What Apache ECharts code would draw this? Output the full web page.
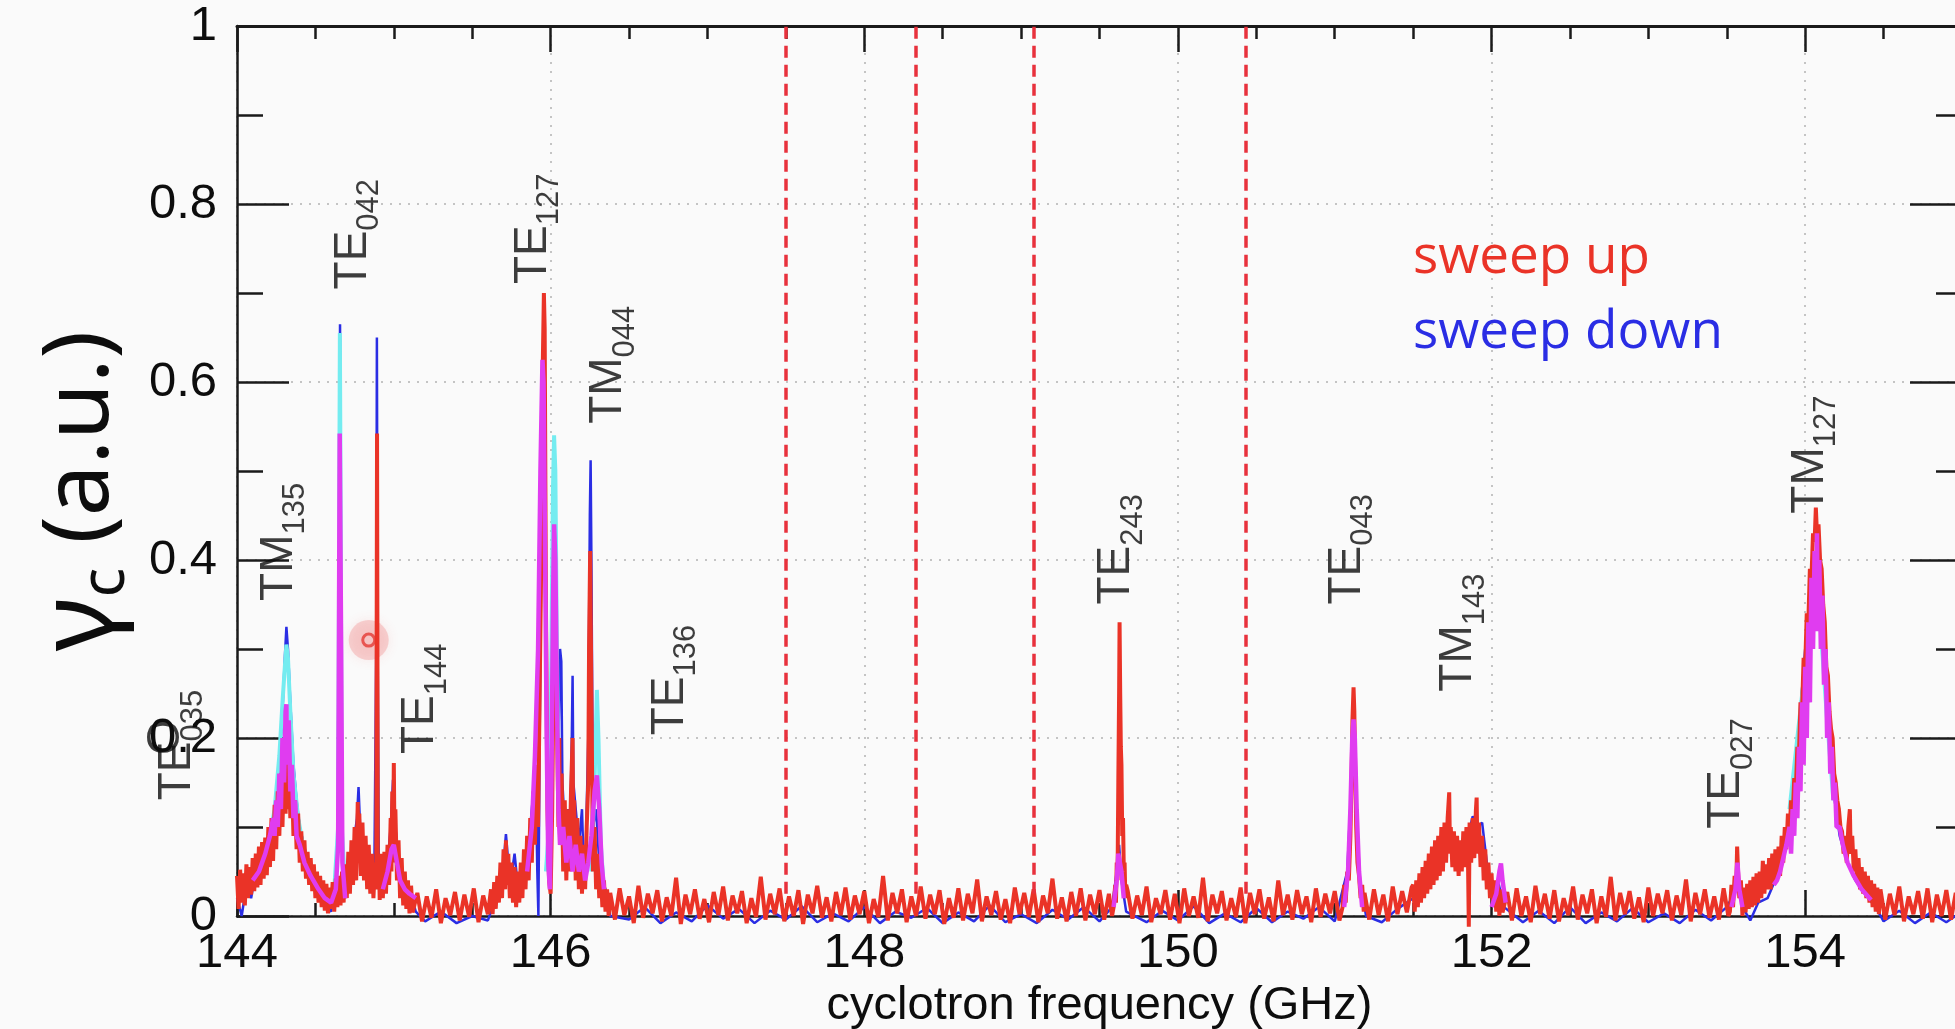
<!DOCTYPE html>
<html lang="en">
<head>
<meta charset="UTF-8">
<title>cyclotron frequency scan</title>
<script src="https://cdn.jsdelivr.net/npm/echarts@6/dist/echarts.min.js"></script>
<style>
  html, body { margin: 0; padding: 0; background: #fafafa; }
  #chart { width: 1955px; height: 1029px; }
</style>
</head>
<body>
<div id="chart"></div>
<script>
// sweep up (red) as [GHz, value]
var sweepUp = [
  // TM135 / TE042 / TE144 group
  [144.00,0.045],[144.01,0.008],[144.02,0.052],[144.03,0.015],[144.04,0.048],[144.05,0.012],[144.06,0.058],[144.07,0.02],
  [144.08,0.055],[144.09,0.024],[144.10,0.065],[144.11,0.028],[144.12,0.07],[144.13,0.032],[144.14,0.078],[144.15,0.035],
  [144.16,0.083],[144.17,0.042],[144.18,0.088],[144.19,0.046],[144.20,0.1],[144.21,0.055],[144.22,0.11],[144.23,0.062],
  [144.24,0.125],[144.25,0.075],[144.26,0.14],[144.27,0.09],[144.28,0.16],[144.29,0.1],[144.30,0.175],[144.31,0.115],
  [144.315,0.2],[144.32,0.12],[144.33,0.185],[144.34,0.11],[144.35,0.16],[144.36,0.09],[144.37,0.13],[144.38,0.075],
  [144.39,0.115],[144.40,0.06],[144.41,0.095],[144.42,0.05],[144.43,0.085],[144.44,0.042],[144.45,0.072],[144.46,0.035],
  [144.47,0.065],[144.48,0.028],[144.49,0.058],[144.50,0.02],[144.51,0.05],[144.52,0.015],[144.53,0.045],[144.54,0.01],
  [144.55,0.04],[144.56,0.006],[144.57,0.036],[144.58,0.003],[144.59,0.032],[144.60,0.008],[144.61,0.038],[144.62,0.005],
  [144.63,0.042],[144.64,0.01],[144.65,0.045],[144.66,0.012],[144.67,0.05],[144.68,0.015],[144.69,0.058],[144.70,0.02],
  [144.71,0.072],[144.72,0.025],[144.73,0.085],[144.74,0.035],[144.75,0.1],[144.76,0.04],[144.77,0.128],[144.775,0.06],
  [144.78,0.115],[144.79,0.045],[144.80,0.105],[144.81,0.04],[144.82,0.09],[144.83,0.03],[144.84,0.08],[144.85,0.025],
  [144.86,0.07],[144.87,0.02],[144.88,0.06],[144.888,0.03],[144.891,0.35],[144.893,0.542],[144.895,0.35],[144.898,0.03],
  [144.905,0.065],[144.91,0.018],[144.92,0.07],[144.93,0.02],[144.94,0.072],[144.95,0.025],[144.96,0.08],[144.97,0.035],
  [144.98,0.11],[144.985,0.05],[144.99,0.14],[144.995,0.06],[145.0,0.172],[145.005,0.07],[145.01,0.12],[145.02,0.04],
  [145.03,0.085],[145.04,0.02],[145.05,0.065],[145.06,0.012],[145.07,0.05],[145.08,0.008],[145.09,0.04],[145.10,0.003],
  [145.11,0.034],
  [145.12,0.004],[145.15,0.026],[145.18,-0.006],[145.21,0.022],[145.24,-0.002],[145.27,0.03],[145.30,-0.008],[145.33,0.02],
  [145.36,0.001],[145.39,0.027],[145.42,-0.005],[145.45,0.024],[145.48,-0.001],[145.51,0.031],[145.54,-0.007],[145.57,0.023],
  [145.60,0.002],
  // TE127 / TM044 group
  [145.62,0.03],[145.63,0.002],[145.64,0.038],[145.65,0.008],[145.66,0.045],[145.67,0.015],[145.68,0.06],[145.69,0.02],
  [145.70,0.075],[145.71,0.03],[145.715,0.085],[145.72,0.035],[145.73,0.07],[145.74,0.02],[145.75,0.06],[145.76,0.015],
  [145.77,0.055],[145.78,0.01],[145.79,0.05],[145.80,0.015],[145.81,0.06],[145.82,0.02],[145.83,0.075],[145.84,0.03],
  [145.85,0.09],[145.86,0.04],[145.87,0.11],[145.88,0.06],[145.89,0.14],[145.90,0.08],[145.91,0.17],[145.92,0.1],
  [145.93,0.25],[145.94,0.4],[145.95,0.62],[145.957,0.70],[145.962,0.66],[145.97,0.35],[145.98,0.12],[145.99,0.04],
  [146.0,0.025],[146.01,0.12],[146.02,0.3],[146.03,0.36],[146.04,0.22],[146.05,0.1],[146.055,0.2],[146.06,0.08],
  [146.07,0.16],[146.08,0.05],[146.09,0.13],[146.10,0.04],[146.11,0.12],[146.12,0.05],[146.13,0.14],[146.14,0.2],
  [146.145,0.06],[146.15,0.13],[146.16,0.04],[146.17,0.11],[146.18,0.03],[146.19,0.09],[146.20,0.025],[146.21,0.08],
  [146.22,0.03],[146.23,0.1],[146.24,0.15],[146.245,0.3],[146.252,0.41],[146.26,0.25],[146.27,0.05],[146.28,0.1],
  [146.29,0.03],[146.30,0.07],[146.31,0.02],[146.32,0.05],[146.33,0.01],[146.34,0.04],[146.35,0.005],[146.36,0.03],
  [146.37,0.0],
  [146.38,0.026],[146.41,-0.004],[146.44,0.031],[146.47,0.001],[146.50,0.022],[146.53,-0.008],[146.56,0.034],[146.59,-0.002],
  [146.62,0.025],[146.65,0.003],[146.68,0.029],[146.71,-0.006],[146.74,0.021],[146.77,0.0],[146.80,0.043],[146.83,-0.009],
  [146.86,0.024],[146.89,0.002],[146.92,0.03],[146.95,-0.003],[146.98,0.019],[147.01,-0.007],[147.04,0.027],[147.07,0.001],
  [147.10,0.033],[147.13,-0.005],[147.16,0.023],[147.19,0.003],[147.22,0.028],[147.25,-0.008],[147.28,0.02],[147.31,-0.001],
  [147.34,0.044],[147.37,-0.004],[147.40,0.025],[147.43,0.002],[147.46,0.031],[147.49,-0.006],[147.52,0.022],[147.55,0.0],
  [147.58,0.029],[147.61,-0.009],[147.64,0.024],[147.67,0.003],[147.70,0.034],[147.73,-0.002],[147.76,0.021],[147.79,-0.006],
  [147.82,0.027],[147.85,0.001],[147.88,0.032],[147.91,-0.004],[147.94,0.023],[147.97,0.002],[148.00,0.028],[148.03,-0.008],
  [148.06,0.019],[148.09,-0.001],[148.12,0.045],[148.15,-0.005],[148.18,0.026],[148.21,0.003],[148.24,0.03],[148.27,-0.007],
  [148.30,0.022],[148.33,0.0],[148.36,0.033],[148.39,-0.003],[148.42,0.024],[148.45,0.002],[148.48,0.029],[148.51,-0.009],
  [148.54,0.02],[148.57,-0.002],[148.60,0.031],[148.63,-0.005],[148.66,0.025],[148.69,0.003],[148.72,0.041],[148.75,-0.006],
  [148.78,0.022],[148.81,0.001],[148.84,0.028],[148.87,-0.004],[148.90,0.019],[148.93,-0.008],[148.96,0.032],[148.99,0.002],
  [149.02,0.026],[149.05,-0.001],[149.08,0.03],[149.11,-0.007],[149.14,0.023],[149.17,0.003],[149.20,0.042],[149.23,-0.003],
  [149.26,0.021],[149.29,-0.006],[149.32,0.027],[149.35,0.0],[149.38,0.031],[149.41,-0.005],[149.44,0.024],[149.47,0.002],
  [149.50,0.029],[149.53,-0.004],[149.56,0.025],[149.58,0.0],
  // TE243
  [149.59,0.01],[149.60,0.035],[149.605,0.015],[149.61,0.06],[149.615,0.04],[149.62,0.15],[149.625,0.25],[149.628,0.33],
  [149.632,0.25],[149.636,0.19],[149.64,0.17],[149.645,0.09],[149.65,0.11],[149.655,0.05],[149.66,0.06],[149.665,0.02],
  [149.67,0.035],
  [149.68,0.028],[149.71,-0.003],[149.74,0.023],[149.77,0.001],[149.80,0.033],[149.83,-0.007],[149.86,0.02],[149.89,0.002],
  [149.92,0.029],[149.95,-0.004],[149.98,0.025],[150.01,-0.008],[150.04,0.031],[150.07,0.0],[150.10,0.022],[150.13,-0.002],
  [150.16,0.043],[150.19,-0.006],[150.22,0.024],[150.25,0.003],[150.28,0.028],[150.31,-0.005],[150.34,0.02],[150.37,-0.001],
  [150.40,0.032],[150.43,-0.008],[150.46,0.026],[150.49,0.002],[150.52,0.03],[150.55,-0.003],[150.58,0.021],[150.61,-0.006],
  [150.64,0.04],[150.67,0.001],[150.70,0.024],[150.73,-0.004],[150.76,0.029],[150.79,0.002],[150.82,0.022],[150.85,-0.007],
  [150.88,0.031],[150.91,-0.001],[150.94,0.025],[150.97,0.003],[151.00,0.028],[151.03,-0.005],
  // TE043
  [151.05,0.01],[151.06,0.035],[151.07,0.015],[151.08,0.05],[151.09,0.04],[151.1,0.09],[151.107,0.15],[151.113,0.22],
  [151.12,0.257],[151.125,0.23],[151.13,0.17],[151.137,0.1],[151.145,0.06],[151.155,0.045],[151.165,0.02],[151.175,0.035],
  [151.185,0.005],
  [151.19,0.026],[151.22,-0.004],[151.25,0.03],[151.28,0.001],[151.31,0.024],[151.34,-0.006],[151.37,0.033],[151.40,0.002],
  [151.43,0.028],[151.46,0.004],[151.49,0.032],
  // TM143 group
  [151.50,0.035],[151.51,0.005],[151.52,0.04],[151.53,0.01],[151.54,0.048],[151.55,0.015],[151.56,0.055],[151.57,0.02],
  [151.58,0.062],[151.59,0.025],[151.60,0.07],[151.61,0.03],[151.62,0.078],[151.63,0.035],[151.64,0.085],[151.65,0.04],
  [151.66,0.09],[151.67,0.045],[151.68,0.1],[151.69,0.05],[151.70,0.105],[151.71,0.06],[151.72,0.11],[151.73,0.139],
  [151.735,0.07],[151.74,0.1],[151.75,0.055],[151.76,0.095],[151.77,0.05],[151.78,0.09],[151.79,0.045],[151.80,0.085],
  [151.81,0.05],[151.82,0.095],[151.83,0.055],[151.84,0.1],[151.85,0.06],[151.855,-0.012],[151.86,0.105],[151.87,0.06],
  [151.88,0.11],[151.89,0.065],[151.90,0.118],[151.905,0.133],[151.91,0.07],[151.92,0.105],[151.93,0.055],[151.94,0.09],
  [151.95,0.04],[151.96,0.075],[151.97,0.03],[151.98,0.06],[151.99,0.02],[152.00,0.048],[152.01,0.012],[152.02,0.04],
  [152.03,0.005],[152.04,0.034],[152.05,0.0],[152.06,0.03],
  [152.07,0.004],[152.10,0.027],[152.13,-0.005],[152.16,0.031],[152.19,0.0],[152.22,0.022],[152.25,-0.007],[152.28,0.034],
  [152.31,0.002],[152.34,0.025],[152.37,-0.003],[152.40,0.029],[152.43,-0.006],[152.46,0.02],[152.49,0.001],[152.52,0.033],
  [152.55,-0.004],[152.58,0.024],[152.61,0.003],[152.64,0.03],[152.67,-0.008],[152.70,0.022],[152.73,-0.001],[152.76,0.044],
  [152.79,-0.005],[152.82,0.026],[152.85,0.002],[152.88,0.028],[152.91,-0.003],[152.94,0.021],[152.97,-0.007],[153.00,0.032],
  [153.03,0.0],[153.06,0.025],[153.09,0.003],[153.12,0.029],[153.15,-0.005],[153.18,0.023],[153.21,0.001],[153.24,0.041],
  [153.27,-0.006],[153.30,0.026],[153.33,0.002],[153.36,0.03],[153.39,-0.002],[153.42,0.022],[153.45,-0.004],[153.48,0.031],
  [153.51,0.0],
  // TE027
  [153.52,0.005],[153.53,0.035],[153.54,0.01],[153.55,0.045],[153.56,0.03],[153.566,0.078],[153.572,0.05],[153.58,0.02],
  [153.59,0.04],[153.60,0.0],
  // TM127
  [153.61,0.032],[153.62,0.004],[153.63,0.036],[153.64,0.008],[153.65,0.04],[153.66,0.01],[153.67,0.044],[153.68,0.012],
  [153.69,0.048],[153.70,0.015],[153.71,0.05],[153.72,0.02],[153.73,0.062],[153.74,0.025],[153.75,0.058],[153.76,0.03],
  [153.77,0.065],[153.78,0.03],[153.79,0.07],[153.80,0.035],[153.81,0.075],[153.82,0.04],[153.83,0.078],[153.84,0.045],
  [153.85,0.09],[153.86,0.06],[153.87,0.1],[153.88,0.075],[153.89,0.115],[153.90,0.09],[153.91,0.13],[153.92,0.11],
  [153.93,0.155],[153.94,0.14],[153.95,0.19],[153.96,0.18],[153.97,0.24],[153.98,0.23],[153.99,0.29],[154.00,0.28],
  [154.01,0.34],[154.02,0.33],[154.03,0.39],[154.04,0.38],[154.05,0.43],[154.06,0.42],[154.068,0.459],[154.075,0.43],
  [154.085,0.44],[154.095,0.4],[154.105,0.39],[154.115,0.35],[154.125,0.33],[154.135,0.28],[154.145,0.27],[154.155,0.23],
  [154.165,0.21],[154.175,0.2],[154.185,0.16],[154.195,0.15],[154.205,0.13],[154.215,0.12],[154.225,0.1],[154.235,0.095],
  [154.245,0.07],[154.255,0.09],[154.265,0.06],[154.275,0.1],[154.285,0.12],[154.29,0.07],[154.30,0.09],[154.31,0.05],
  [154.32,0.075],[154.33,0.04],[154.34,0.065],[154.35,0.03],[154.36,0.055],[154.37,0.025],[154.38,0.05],[154.39,0.02],
  [154.40,0.045],[154.41,0.015],[154.42,0.04],[154.43,0.01],[154.44,0.036],[154.45,0.005],[154.46,0.032],[154.47,0.002],
  [154.48,0.03],[154.51,-0.004],[154.54,0.025],[154.57,0.001],[154.60,0.033],[154.63,-0.006],[154.66,0.022],[154.69,0.002],
  [154.72,0.028],[154.75,-0.003],[154.78,0.031],[154.81,-0.007],[154.84,0.024],[154.87,0.0],[154.90,0.029],[154.93,-0.004],
  [154.96,0.026],[154.99,0.001]
];

// sweep down (blue)
var sweepDown = [
  [144.0,0.02],[144.03,0.0],[144.06,0.035],[144.09,0.02],[144.12,0.05],[144.15,0.045],[144.18,0.07],[144.21,0.09],
  [144.24,0.12],[144.27,0.17],[144.29,0.23],[144.305,0.29],[144.315,0.325],[144.325,0.3],[144.34,0.24],[144.36,0.17],
  [144.38,0.13],[144.40,0.1],[144.42,0.085],[144.44,0.07],[144.46,0.055],[144.48,0.045],[144.51,0.03],[144.54,0.02],
  [144.57,0.01],[144.60,0.005],[144.62,0.03],[144.64,0.08],[144.652,0.4],[144.657,0.665],[144.662,0.4],[144.672,0.06],
  [144.69,0.02],[144.71,0.05],[144.73,0.06],[144.75,0.09],[144.765,0.11],[144.775,0.145],[144.785,0.1],[144.80,0.08],
  [144.82,0.06],[144.85,0.04],[144.875,0.03],[144.888,0.3],[144.892,0.65],[144.897,0.3],[144.905,0.03],[144.93,0.04],
  [144.96,0.06],[144.98,0.1],[144.995,0.153],[145.01,0.1],[145.03,0.06],[145.06,0.04],[145.10,0.03],[145.14,0.005],
  [145.2,-0.006],[145.3,0.005],[145.4,-0.008],[145.5,0.0],[145.6,-0.005],[145.65,0.02],[145.70,0.06],[145.715,0.092],
  [145.73,0.06],[145.75,0.045],[145.77,0.07],[145.79,0.035],[145.82,0.05],[145.85,0.07],[145.87,0.1],[145.89,0.14],
  [145.905,0.16],[145.915,0.05],[145.922,0.0],[145.93,0.2],[145.945,0.5],[145.955,0.6],[145.965,0.45],[145.98,0.15],
  [145.995,0.08],[146.01,0.25],[146.025,0.5],[146.035,0.35],[146.05,0.2],[146.06,0.3],[146.068,0.286],[146.075,0.15],
  [146.09,0.1],[146.11,0.12],[146.125,0.1],[146.135,0.2],[146.14,0.27],[146.145,0.15],[146.16,0.12],[146.18,0.08],
  [146.20,0.12],[146.21,0.06],[146.225,0.08],[146.24,0.2],[146.25,0.45],[146.255,0.512],[146.26,0.4],[146.27,0.1],
  [146.29,0.12],[146.31,0.06],[146.33,0.04],[146.35,0.03],[146.36,0.025],[146.38,0.0],
  [146.5,-0.004],[146.6,0.01],[146.7,-0.008],[146.8,0.004],[146.9,-0.006],[147.0,0.012],[147.1,-0.003],[147.2,0.008],
  [147.3,-0.008],[147.4,0.006],[147.5,-0.004],[147.6,0.011],[147.7,-0.007],[147.8,0.003],[147.9,-0.006],[148.0,0.01],
  [148.1,-0.008],[148.2,0.005],[148.3,-0.002],[148.4,0.009],[148.5,-0.008],[148.6,0.004],[148.7,-0.006],[148.8,0.012],
  [148.9,-0.007],[149.0,0.002],[149.1,-0.008],[149.2,0.007],[149.3,-0.004],[149.4,0.01],[149.5,-0.006],[149.58,0.01],
  [149.61,0.05],[149.625,0.08],[149.64,0.04],[149.67,0.005],[149.8,-0.007],[149.9,0.006],[150.0,-0.005],[150.1,0.011],
  [150.2,-0.008],[150.3,0.003],[150.4,-0.007],[150.5,0.009],[150.6,-0.007],[150.7,0.005],[150.8,-0.003],[150.9,0.01],
  [151.0,-0.006],[151.08,0.05],[151.12,0.2],[151.16,0.04],[151.2,0.0],[151.3,-0.007],[151.4,0.008],[151.5,0.02],
  [151.6,0.04],[151.7,0.07],[151.75,0.09],[151.8,0.06],[151.85,0.09],[151.88,0.112],[151.91,0.1],[151.94,0.105],
  [151.97,0.06],[152.0,0.03],[152.04,0.04],[152.08,0.01],[152.2,-0.007],[152.3,0.006],[152.4,-0.008],[152.5,0.01],
  [152.6,-0.008],[152.7,0.004],[152.8,-0.006],[152.9,0.009],[153.0,-0.007],[153.1,0.003],[153.2,-0.008],[153.3,0.007],
  [153.4,-0.005],[153.5,0.01],[153.56,0.03],[153.58,0.04],[153.6,0.01],[153.65,-0.005],[153.7,0.015],[153.76,0.02],
  [153.82,0.045],[153.87,0.08],[153.92,0.13],[153.96,0.21],[154.0,0.3],[154.03,0.34],[154.06,0.36],[154.08,0.35],
  [154.11,0.3],[154.14,0.22],[154.18,0.14],[154.22,0.09],[154.27,0.06],[154.32,0.04],[154.38,0.025],[154.45,0.01],
  [154.5,-0.006],[154.6,0.006],[154.7,-0.008],[154.8,0.004],[154.9,-0.007],[155.0,0.005]
];

// cyan trace, only where it shows above the others
var cyanTrace = [
  [144.15,0.05],[144.2,0.08],[144.24,0.12],[144.27,0.18],[144.29,0.24],[144.305,0.28],[144.315,0.305],[144.325,0.29],
  [144.34,0.23],[144.36,0.16],[144.39,0.11],[144.42,0.08],[144.46,0.05],[144.5,0.03],[144.51,null],
  [144.62,0.03],[144.645,0.1],[144.652,0.45],[144.656,0.655],[144.661,0.45],[144.668,0.1],[144.69,0.03],[144.7,null],
  [144.95,0.04],[144.98,0.07],[144.995,0.11],[145.01,0.08],[145.04,0.04],[145.05,null],
  [145.97,0.05],[145.99,0.1],[146.005,0.3],[146.015,0.48],[146.022,0.54],[146.03,0.5],[146.04,0.3],[146.055,0.1],[146.06,null],
  [146.26,0.05],[146.28,0.15],[146.295,0.254],[146.305,0.2],[146.32,0.08],[146.34,0.03],[146.35,null],
  [153.9,0.12],[153.95,0.2],[154.0,0.28],[154.04,0.33],[154.07,0.36],[154.1,0.32],[154.14,0.22],[154.18,0.13]
];

// magenta trace
var magentaTrace = [
  [144.10,0.04],[144.14,0.05],[144.18,0.07],[144.21,0.09],[144.23,0.11],[144.24,0.09],[144.25,0.13],[144.26,0.1],
  [144.27,0.16],[144.28,0.12],[144.29,0.2],[144.30,0.15],[144.31,0.23],[144.315,0.238],[144.32,0.17],[144.33,0.22],
  [144.34,0.14],[144.35,0.17],[144.36,0.11],[144.37,0.13],[144.38,0.09],[144.40,0.08],[144.43,0.06],[144.47,0.045],
  [144.52,0.03],[144.56,0.02],[144.6,0.015],[144.63,0.03],[144.645,0.08],[144.651,0.35],[144.655,0.542],[144.659,0.542],
  [144.664,0.3],[144.672,0.06],[144.69,0.02],[144.7,null],
  [144.93,0.03],[144.96,0.05],[144.985,0.075],[145.0,0.08],[145.015,0.065],[145.04,0.04],[145.07,0.03],[145.1,0.025],
  [145.14,0.02],[145.15,null],
  [145.85,0.05],[145.88,0.1],[145.9,0.18],[145.92,0.3],[145.935,0.5],[145.948,0.625],[145.955,0.6],[145.965,0.4],
  [145.975,0.2],[145.985,0.06],[145.995,0.03],[146.005,0.15],[146.015,0.35],[146.022,0.44],[146.03,0.4],[146.04,0.25],
  [146.05,0.12],[146.06,0.08],[146.08,0.1],[146.1,0.06],[146.12,0.09],[146.14,0.05],[146.16,0.08],[146.18,0.05],
  [146.2,0.07],[146.22,0.04],[146.24,0.06],[146.26,0.09],[146.28,0.14],[146.295,0.158],[146.31,0.12],[146.325,0.06],
  [146.34,0.03],[146.35,null],
  [149.59,0.01],[149.61,0.04],[149.62,0.07],[149.63,0.072],[149.64,0.05],[149.655,0.02],[149.66,null],
  [151.06,0.01],[151.085,0.05],[151.1,0.12],[151.112,0.2],[151.12,0.221],[151.128,0.2],[151.14,0.12],[151.155,0.05],
  [151.175,0.01],[151.18,null],
  [152.0,0.01],[152.03,0.025],[152.05,0.05],[152.06,0.059],[152.07,0.04],[152.09,0.015],[152.1,null],
  [153.53,0.01],[153.555,0.03],[153.568,0.06],[153.58,0.03],[153.6,0.01],[153.61,null],
  [153.80,0.035],[153.82,0.04],[153.84,0.05],[153.86,0.065],[153.88,0.08],[153.90,0.1],[153.91,0.07],[153.92,0.12],
  [153.93,0.09],[153.94,0.15],[153.95,0.11],[153.96,0.19],[153.97,0.14],[153.98,0.24],[153.99,0.17],[154.0,0.28],
  [154.01,0.2],[154.02,0.33],[154.03,0.24],[154.04,0.38],[154.05,0.3],[154.06,0.41],[154.07,0.32],[154.075,0.43],
  [154.08,0.34],[154.09,0.4],[154.10,0.3],[154.11,0.36],[154.12,0.26],[154.13,0.3],[154.14,0.2],[154.15,0.24],
  [154.16,0.16],[154.17,0.19],[154.18,0.13],[154.19,0.15],[154.20,0.1],[154.22,0.1],[154.24,0.08],[154.27,0.06],
  [154.31,0.045],[154.36,0.03],[154.42,0.018]
];

// red dashed markers (GHz)
var dashedFreqs = [147.5, 148.33, 149.08, 150.43];

// mode annotations: type, index, frequency of the letters, value where the text starts
var modeType = ['TE', 'TE', 'TM', 'TE', 'TE', 'TE', 'TM', 'TE', 'TE', 'TE', 'TM', 'TE', 'TM'];
var modeIdx = ['035', '', '135', '042', '144', '127', '044', '136', '243', '043', '143', '027', '127'];
var modeFreq = [143.62, 143.55, 144.27, 144.74, 145.17, 145.89, 146.37, 146.76, 149.61, 151.08, 151.79, 153.50, 154.03];
var modeBase = [0.13, 0.181, 0.354, 0.704, 0.182, 0.71, 0.553, 0.203, 0.35, 0.35, 0.252, 0.098, 0.452];
// the stray "O" overlapping the TE035 text
var strayText = ['', 'O', '', '', '', '', '', '', '', '', '', '', ''];

// pointer mark seen in the picture
var cursorMark = [144.84, 0.31];

var RED = '#ea3327', BLUE = '#2a2de4', CYAN = '#74ecf0', MAGENTA = '#e03cf0';

var modeData = [];
for (var i = 0; i < modeType.length; i++) {
    modeData.push({
        value: [modeFreq[i], modeBase[i]],
        mode: modeType[i],
        idx: modeIdx[i],
        stray: strayText[i]
    });
}

var markLines = [];
dashedFreqs.forEach(function (f) {
    markLines.push([{coord: [f, 0.025]}, {coord: [f, 1]}]);
});

var chart = echarts.init(document.getElementById('chart'));

var tickFont = {fontSize: 49, fontFamily: 'Liberation Sans', color: '#0d0d0d'};

function traceSeries(name, data, color, width) {
    return {
        name: name,
        type: 'line',
        data: data,
        showSymbol: false,
        symbol: 'none',
        clip: false,
        animation: false,
        lineStyle: {color: color, width: width},
        itemStyle: {color: color},
        emphasis: {disabled: true}
    };
}

var option = {
    backgroundColor: '#fafafa',
    animation: false,
    grid: {left: 237, right: -7, top: 26, bottom: 113, containLabel: false, outerBoundsMode: 'none'},
    legend: {
        data: [
            {name: 'sweep up', textStyle: {color: RED}},
            {name: 'sweep down', textStyle: {color: BLUE}}
        ],
        orient: 'vertical',
        left: 1403,
        top: 223,
        itemGap: 15,
        itemWidth: 0,
        itemHeight: 0,
        icon: 'rect',
        itemStyle: {opacity: 0},
        lineStyle: {opacity: 0},
        selectedMode: false,
        textStyle: {fontSize: 53, fontFamily: 'Open Sans', lineHeight: 60}
    },
    xAxis: [{
        type: 'value',
        min: 144,
        max: 155,
        interval: 2,
        name: 'cyclotron frequency (GHz)',
        nameLocation: 'middle',
        nameGap: 52,
        nameTextStyle: {fontSize: 47, fontFamily: 'Liberation Sans', color: '#0d0d0d'},
        axisLine: {show: true, onZero: false, lineStyle: {color: '#1a1a1a', width: 2.5}},
        axisTick: {show: true, inside: true, length: 26, lineStyle: {color: '#1a1a1a', width: 2.5}},
        minorTick: {show: true, splitNumber: 4, length: 13, lineStyle: {color: '#1a1a1a', width: 2.5}},
        axisLabel: Object.assign({margin: 13, showMaxLabel: false}, tickFont),
        splitLine: {show: true, lineStyle: {color: '#c4c4c4', width: 2, type: [2, 7]}}
    }, {
        type: 'value',
        position: 'top',
        min: 144,
        max: 155,
        interval: 2,
        axisLine: {show: true, onZero: false, lineStyle: {color: '#1a1a1a', width: 3}},
        axisTick: {show: true, inside: true, length: 26, lineStyle: {color: '#1a1a1a', width: 2.5}},
        minorTick: {show: true, splitNumber: 4, length: 13, lineStyle: {color: '#1a1a1a', width: 2.5}},
        axisLabel: {show: false},
        splitLine: {show: false}
    }],
    yAxis: [{
        type: 'value',
        min: 0,
        max: 1,
        interval: 0.2,
        name: '{g|γ}{c|c}{t| (a.u.)}',
        nameLocation: 'middle',
        nameGap: 100,
        nameRotate: 90,
        nameTextStyle: {
            color: '#0d0d0d',
            padding: [0, 40, 0, 0],
            rich: {
                g: {fontSize: 104, fontFamily: 'Noto Sans', lineHeight: 110, color: '#0d0d0d'},
                c: {fontSize: 62, fontFamily: 'Noto Sans', lineHeight: 62, verticalAlign: 'bottom', color: '#0d0d0d'},
                t: {fontSize: 92, fontFamily: 'Noto Sans', lineHeight: 110, color: '#0d0d0d'}
            }
        },
        axisLine: {show: true, onZero: false, lineStyle: {color: '#1a1a1a', width: 2.5}},
        axisTick: {show: true, inside: true, length: 52, lineStyle: {color: '#1a1a1a', width: 2.5}},
        minorTick: {show: true, splitNumber: 2, length: 26, lineStyle: {color: '#1a1a1a', width: 2.5}},
        axisLabel: Object.assign({margin: 20}, tickFont),
        splitLine: {show: true, lineStyle: {color: '#c4c4c4', width: 2, type: [2, 7]}}
    }, {
        type: 'value',
        position: 'right',
        min: 0,
        max: 1,
        interval: 0.2,
        axisLine: {show: true, onZero: false, lineStyle: {color: '#1a1a1a', width: 2.5}},
        axisTick: {show: true, inside: true, length: 52, lineStyle: {color: '#1a1a1a', width: 2.5}},
        minorTick: {show: true, splitNumber: 2, length: 26, lineStyle: {color: '#1a1a1a', width: 2.5}},
        axisLabel: {show: false},
        splitLine: {show: false}
    }],
    series: [
        traceSeries('sweep down', sweepDown, BLUE, 2.5),
        traceSeries('sweep down, cyan', cyanTrace, CYAN, 4),
        Object.assign(traceSeries('sweep up', sweepUp, RED, 4), {
            markLine: {
                silent: true,
                symbol: 'none',
                animation: false,
                label: {show: false},
                lineStyle: {color: '#e8313c', width: 3.5, type: [12, 7]},
                data: markLines
            }
        }),
        traceSeries('sweep up, magenta', magentaTrace, MAGENTA, 4.5),
        {
            name: 'modes',
            type: 'scatter',
            data: modeData,
            symbolSize: 0,
            clip: false,
            silent: true,
            animation: false,
            label: {
                show: true,
                position: 'inside',
                rotate: 90,
                align: 'left',
                verticalAlign: 'middle',
                formatter: function (p) {
                    if (p.data.stray) return '{m|' + p.data.stray + '}';
                    return '{m|' + p.data.mode + '}{s|' + p.data.idx + '}';
                },
                rich: {
                    m: {fontSize: 46, fontFamily: 'Liberation Sans', color: '#0d0d0d', lineHeight: 64},
                    s: {fontSize: 31, fontFamily: 'Liberation Sans', color: '#0d0d0d', lineHeight: 31, verticalAlign: 'bottom'}
                }
            }
        },
        {
            name: 'cursor',
            type: 'scatter',
            silent: true,
            animation: false,
            data: [
                {value: cursorMark, symbolSize: 40, itemStyle: {color: 'rgba(238,80,80,0.28)', borderWidth: 0, shadowBlur: 12, shadowColor: 'rgba(238,80,80,0.5)'}},
                {value: cursorMark, symbolSize: 12, itemStyle: {color: 'rgba(255,255,255,0)', borderColor: '#e53935', borderWidth: 3}}
            ]
        }
    ]
};

chart.setOption(option);
</script>
</body>
</html>
